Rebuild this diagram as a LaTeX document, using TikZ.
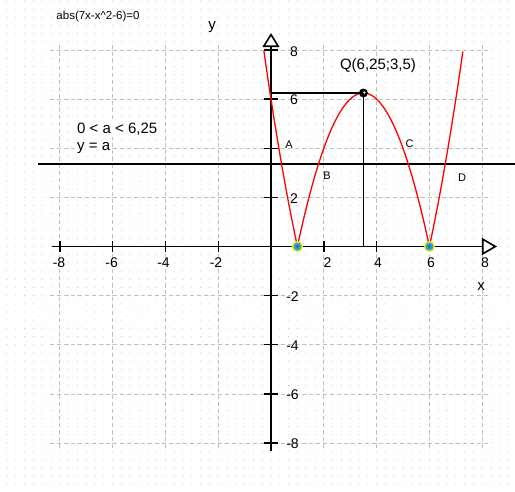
\documentclass[tikz,border=0pt]{standalone}
\usepackage{fontspec}
\setmainfont{Liberation Sans}
\usetikzlibrary{arrows.meta}
\tikzset{
  axisline/.style={line width=1.6pt, black},
  gridline/.style={gray!50, line width=0.7pt, dash pattern=on 3.5pt off 3.5pt},
  tickline/.style={line width=1.4pt, black},
  ticklab/.style={font=\fontsize{14}{14}\selectfont, inner sep=0pt},
  ptlab/.style={font=\fontsize{11}{11}\selectfont, inner sep=0pt},
  bigtxt/.style={font=\fontsize{15}{15}\selectfont, inner sep=0pt},
  curve/.style={red, line width=1.3pt, line join=round},
}
\begin{document}
\begin{tikzpicture}[x=1pt,y=-1pt]
\useasboundingbox (0,0) rectangle (515,491);
\fill[white] (0,0) rectangle (515,491);
\begin{scope}[shift={(271pt,-246.5pt)}, x=26.4pt, y=24.56pt]
  % background dots
  \foreach \i in {-30,...,27}{
    \foreach \j in {-29,...,30}{
      \fill[gray!45] (\i/3,\j/3) circle (0.55pt);
    }
  }
  % dashed grid
  \foreach \g in {-8,-6,-4,-2,2,4,6,8}{
    \draw[gridline] (\g,8.2) -- (\g,-8.3);
    \draw[gridline] (-8.37,\g) -- (8.3,\g);
  }
  % axes
  \coordinate (xs) at (-8.31,0);
  \coordinate (xe) at (8.56,0);
  \coordinate (ys) at (0,-8.31);
  \coordinate (ye) at (0,8.69);
  \draw[axisline, -{Triangle[open, length=15pt, width=17pt]}] (xs) -- (xe);
  \draw[axisline, -{Triangle[open, length=14pt, width=17pt]}] (ys) -- (ye);
  \foreach \g in {-8,-6,-4,-2,2,4,6,8}{
    \draw[tickline] ([yshift=-5.5pt]\g,0) -- ([yshift=5.5pt]\g,0);
    \draw[tickline] ([xshift=-7.5pt]0,\g) -- ([xshift=7pt]0,\g);
  }
  % line y = a
  \coordinate (la) at (-8.83,3.36);
  \coordinate (lb) at (9.3,3.36);
  \draw[axisline] (la) -- (lb);
  % curve
  \draw[curve] plot[domain=-0.27:7.27, samples=300] (\x,{abs(7*\x-\x*\x-6)});
  % vertex lines
  \coordinate (Q) at (3.5,6.25);
  \coordinate (Qy) at (0,6.25);
  \coordinate (Qx) at (3.5,0);
  \draw[axisline] (Qy) -- (Q) -- (Qx);
  \fill[black] (Q) circle (4.5pt);
  \fill[white] ([xshift=1pt,yshift=0.5pt]Q) circle (1.2pt);
  % zeros
  \coordinate (z1) at (1,0);
  \coordinate (z2) at (6,0);
  \foreach \z in {z1,z2}{
    \filldraw[fill=cyan!80!teal, draw=yellow!90!green, line width=1.4pt] (\z) circle (4.8pt);
    \fill[magenta!70!blue] (\z) circle (1.3pt);
  }
\end{scope}
% labels
\node[font=\fontsize{11.5}{12}\selectfont, inner sep=0pt] (title) at (98,17) {abs(7x-x\^{}2-6)=0};
\node[bigtxt] (ylab) at (212,27) {y};
\node[bigtxt] (xlab) at (481,287) {x};
\node[bigtxt] (qlab) at (378,66) {Q(6,25;3,5)};
\node[bigtxt, anchor=west, fill=white, inner sep=2pt] (cond) at (75,129) {0 < a < 6,25};
\node[bigtxt, anchor=west, fill=white, inner sep=1pt] (yeqa) at (76,148) {y = a};
\node[ptlab] (A) at (289,145) {A};
\node[ptlab] (B) at (327,176) {B};
\node[ptlab] (C) at (409.5,143.5) {C};
\node[ptlab] (D) at (462,178) {D};
% x tick labels
\node[ticklab] (xm8) at (59,263) {-8};
\node[ticklab] (xm6) at (111.7,263) {-6};
\node[ticklab] (xm4) at (163.5,263) {-4};
\node[ticklab] (xm2) at (216,263) {-2};
\node[ticklab] (xp2) at (327.5,263) {2};
\node[ticklab] (xp4) at (378,263) {4};
\node[ticklab] (xp6) at (431,263) {6};
\node[ticklab] (xp8) at (485,263) {8};
% y tick labels
\node[ticklab] (yp8) at (294,52) {8};
\node[ticklab] (yp6) at (294,100) {6};
\node[ticklab] (yp2) at (294,199) {2};
\node[ticklab] (ym2) at (292.5,297) {-2};
\node[ticklab] (ym4) at (292.5,346) {-4};
\node[ticklab] (ym6) at (292.5,395) {-6};
\node[ticklab] (ym8) at (292.5,444) {-8};
\end{tikzpicture}
\end{document}
